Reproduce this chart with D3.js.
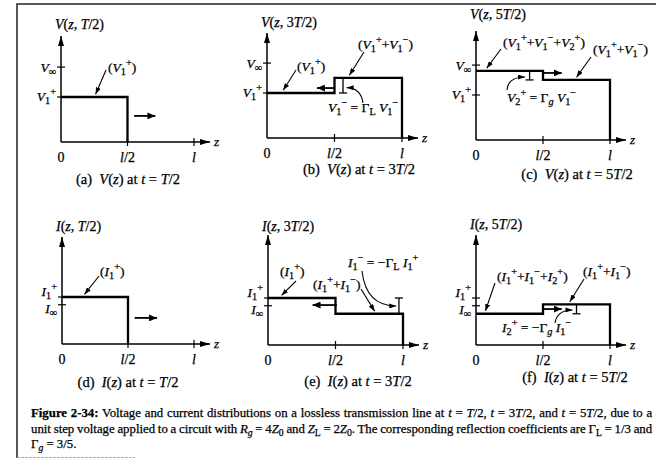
<!DOCTYPE html>
<html>
<head>
<meta charset="utf-8">
<script src="https://cdn.jsdelivr.net/npm/d3@7"></script>
<style>
html, body { margin: 0; padding: 0; background: #fff; }
svg { display: block; font-family: "Liberation Serif", "Times New Roman", serif; }
svg text { stroke: #000; stroke-width: 0.25px; }
</style>
</head>
<body>
<svg id="fig" width="656" height="461"></svg>
<script>
// positions along the line, as a fraction of l
var zTicks = [0, 0.5, 1];
var zTickLabels = ["0", "{l}/2", "{l}"];

// levels for a unit step, Rg = 4Z0, ZL = 2Z0 (Z0 = 1)
var vTicks = [0.333, 0.2];
var vTickLabels = ["{V}_∞", "{V}_1^+"];
var iTicks = [0.2, 0.167];
var iTickLabels = ["{I}_1^+", "{I}_∞"];

// step segments: [z from, z to, level]
var vAtT1 = [[0, 0.5, 0.2]];
var vAtT3 = [[0, 0.5, 0.2], [0.5, 1, 0.267]];
var vAtT5 = [[0, 0.5, 0.307], [0.5, 1, 0.267]];
var iAtT1 = [[0, 0.5, 0.2]];
var iAtT3 = [[0, 0.5, 0.2], [0.5, 1, 0.133]];
var iAtT5 = [[0, 0.5, 0.133], [0.5, 1, 0.173]];

var panelTitles = ["{V}({z}, {T}/2)", "{V}({z}, 3{T}/2)", "{V}({z}, 5{T}/2)",
                   "{I}({z}, {T}/2)", "{I}({z}, 3{T}/2)", "{I}({z}, 5{T}/2)"];
var panelCaptions = ["(a)  {V}({z}) at {t} = {T}/2", "(b)  {V}({z}) at {t} = 3{T}/2", "(c)  {V}({z}) at {t} = 5{T}/2",
                     "(d)  {I}({z}) at {t} = {T}/2", "(e)  {I}({z}) at {t} = 3{T}/2", "(f)  {I}({z}) at {t} = 5{T}/2"];

var figCaption = [
  "*Figure 2-34:* Voltage and current distributions on a lossless transmission line at {t} = {T}/2, {t} = 3{T}/2, and {t} = 5{T}/2, due to a",
  "unit step voltage applied to a circuit with {R}_{g} = 4{Z}_0 and {Z}_L = 2{Z}_0. The corresponding reflection coefficients are Γ_L = 1/3 and",
  "Γ_{g} = 3/5."
];

// layout of each panel
var panels = [
  { data: vAtT1, ticks: vTicks, tickLabels: vTickLabels, tickDy: [5, 4],
    ax: 61, lx: 194, base: 142, k: 225, top: 36, titleY: 29, capX: 128, capY: 184,
    flow: [0.55, 0.71, 0.116],
    labels: [["({V}_1^+)", 108, 72]],
    pointers: [[106, 70, 0.26, 0.212]] },
  { data: vAtT3, ticks: vTicks, tickLabels: vTickLabels, tickDy: [5, 4],
    ax: 267, lx: 402, base: 138, k: 225, top: 33, titleY: 27, capX: 359, capY: 174,
    flow: [0.5, 0.37, 0.222],
    bar: [0.563, 0.2, 0.267, "both"],
    labels: [["({V}_1^+)", 297, 71], ["({V}_1^++{V}_1^−)", 358, 49], ["{V}_1^− = Γ_L {V}_1^−", 328, 112]],
    pointers: [[296, 70, 0.12, 0.212], [364, 52, 0.61, 0.279]],
    curve: [363, 103, 361, 88, 0.59, 0.224] },
  { data: vAtT5, ticks: vTicks, tickLabels: vTickLabels, tickDy: [5, 4],
    ax: 476, lx: 610, base: 140, k: 225, top: 31, titleY: 19, capX: 577, capY: 179,
    flow: [0.5, 0.64, 0.298],
    bar: [0.4, 0.267, 0.307, "bottom"],
    labels: [["({V}_1^++{V}_1^−+{V}_2^+)", 503, 47], ["({V}_1^++{V}_1^−)", 593, 54], ["{V}_2^+ = Γ_{g} {V}_1^−", 507, 102]],
    pointers: [[501, 49, 0.08, 0.319], [591, 57, 0.75, 0.279]],
    curve: [507, 90, 508, 77, 0.366, 0.28] },
  { data: iAtT1, ticks: iTicks, tickLabels: iTickLabels, tickDy: [-1, 8],
    ax: 62, lx: 194, base: 344, k: 235, top: 237, titleY: 231, capX: 128, capY: 387,
    flow: [0.55, 0.72, 0.111],
    labels: [["({I}_1^+)", 100, 276]],
    pointers: [[99, 276, 0.17, 0.211]] },
  { data: iAtT3, ticks: iTicks, tickLabels: iTickLabels, tickDy: [-1, 8],
    ax: 268, lx: 403, base: 345, k: 235, top: 235, titleY: 231, capX: 358, capY: 386,
    flow: [0.51, 0.33, 0.17],
    bar: [0.97, 0.133, 0.2, "top"],
    labels: [["({I}_1^+)", 280, 276], ["({I}_1^++{I}_1^−)", 313, 289], ["{I}_1^− = −Γ_L {I}_1^+", 348, 267]],
    pointers: [[296, 281, 0.1, 0.211], [361, 289, 0.79, 0.144]],
    curve: [362, 271, 366, 306, 0.95, 0.166] },
  { data: iAtT5, ticks: iTicks, tickLabels: iTickLabels, tickDy: [-1, 8],
    ax: 476, lx: 610, base: 345, k: 235, top: 235, titleY: 229, capX: 575, capY: 382,
    flow: [0.5, 0.64, 0.153],
    bar: [0.75, 0.133, 0.173, "bottom"],
    labels: [["({I}_1^++{I}_1^−+{I}_2^+)", 497, 281], ["({I}_1^++{I}_1^−)", 583, 276], ["{I}_2^+ = −Γ_{g} {I}_1^−", 502, 332]],
    pointers: [[495, 283, 0.07, 0.145], [584, 279, 0.7, 0.184]],
    curve: [555, 323, 557, 310, 0.72, 0.149] }
];

var svg = d3.select("#fig");

// arrow heads
var defs = svg.append("defs");
function head(id, len, wid) {
  defs.append("marker").attr("id", id)
    .attr("markerUnits", "userSpaceOnUse")
    .attr("viewBox", "0 0 " + len + " " + wid)
    .attr("markerWidth", len).attr("markerHeight", wid)
    .attr("refX", len).attr("refY", wid / 2)
    .attr("orient", "auto")
    .append("path").attr("d", "M0,0L" + len + "," + (wid / 2) + "L0," + wid + "Z").attr("fill", "#000");
}
head("axisHead", 10, 6);
head("flowHead", 8, 7);
head("ptrHead", 7, 5);

// text with italic {..}, bold *..*, sub _x and sup ^x
function rich(t, str) {
  var fs = +t.attr("font-size");
  var off = 0;
  var re = /\*([^*]*)\*|_\{([^}]*)\}|\{([^}]*)\}|_(.)|\^(.)|([^*{_^]+)/g;
  var m;
  while ((m = re.exec(str)) !== null) {
    var txt, it = false, bold = false, small = false, shift = 0;
    if (m[1] !== undefined) { txt = m[1]; bold = true; }
    else if (m[2] !== undefined) { txt = m[2]; it = true; small = true; shift = 0.25; }
    else if (m[3] !== undefined) { txt = m[3]; it = true; }
    else if (m[4] !== undefined) { txt = m[4]; small = true; shift = 0.25; }
    else if (m[5] !== undefined) { txt = m[5]; small = true; shift = -0.45; }
    else { txt = m[6]; }
    var s = shift * fs;
    var ts = t.append("tspan").text(txt);
    if (s !== off) ts.attr("dy", s - off);
    off = s;
    if (it) ts.attr("font-style", "italic");
    if (bold) ts.attr("font-weight", "bold");
    if (small) ts.attr("font-size", (fs * 0.76).toFixed(1));
  }
  return t;
}

function addText(g, str, x, y, fs, anchor) {
  var t = g.append("text").attr("x", x).attr("y", y).attr("font-size", fs)
    .attr("text-anchor", anchor || "start").style("white-space", "pre");
  return rich(t, str);
}

// frame
svg.append("path").attr("d", "M17,458V4H656").attr("fill", "none").attr("stroke", "#222").attr("stroke-width", 1.5);
svg.append("line").attr("x1", 17).attr("x2", 135).attr("y1", 457.5).attr("y2", 457.5)
  .attr("stroke", "#aaa").attr("stroke-width", 1).attr("stroke-dasharray", "3,1");

panels.forEach(function(p, i) {
  var g = svg.append("g");
  var x = d3.scaleLinear().domain([0, 1]).range([p.ax, p.lx]);
  var y = d3.scaleLinear().domain([0, 1]).range([p.base, p.base - p.k]);

  // axes
  g.append("line").attr("x1", p.ax).attr("x2", p.ax).attr("y1", p.base).attr("y2", p.top)
    .attr("stroke", "#000").attr("stroke-width", 1.5).attr("marker-end", "url(#axisHead)");
  g.append("line").attr("x1", p.ax).attr("x2", x(1) + 16).attr("y1", p.base).attr("y2", p.base)
    .attr("stroke", "#000").attr("stroke-width", 1.5).attr("marker-end", "url(#axisHead)");
  addText(g, "{z}", x(1) + 20, p.base + 4, 13.5);

  // z ticks
  g.selectAll(".zt").data(zTicks.slice(1)).enter().append("line")
    .attr("x1", function(d) { return x(d); }).attr("x2", function(d) { return x(d); })
    .attr("y1", p.base - 4).attr("y2", p.base + 4).attr("stroke", "#000").attr("stroke-width", 1.2);
  zTicks.forEach(function(d, j) {
    addText(g, zTickLabels[j], x(d), p.base + 20, 14, "middle");
  });

  // level ticks
  g.selectAll(".lt").data(p.ticks).enter().append("line")
    .attr("x1", p.ax - 4).attr("x2", p.ax + 4)
    .attr("y1", function(d) { return y(d); }).attr("y2", function(d) { return y(d); })
    .attr("stroke", "#000").attr("stroke-width", 1.2);
  p.ticks.forEach(function(d, j) {
    addText(g, p.tickLabels[j], p.ax - 5, y(d) + p.tickDy[j], 13.5, "end");
  });

  // waveform
  var pts = [];
  p.data.forEach(function(s) { pts.push([s[0], s[2]], [s[1], s[2]]); });
  var last = p.data[p.data.length - 1];
  pts.push([last[1], 0]);
  g.append("path").attr("d", d3.line().x(function(d) { return x(d[0]); }).y(function(d) { return y(d[1]); })(pts))
    .attr("fill", "none").attr("stroke", "#000").attr("stroke-width", 2.3).attr("stroke-linejoin", "miter");

  // travelling direction
  g.append("line").attr("x1", x(p.flow[0])).attr("x2", x(p.flow[1]))
    .attr("y1", y(p.flow[2])).attr("y2", y(p.flow[2]))
    .attr("stroke", "#000").attr("stroke-width", 1.8).attr("marker-end", "url(#flowHead)");

  // reflected step size bar
  if (p.bar) {
    var bx = x(p.bar[0]), b0 = y(p.bar[1]), b1 = y(p.bar[2]);
    g.append("line").attr("x1", bx).attr("x2", bx).attr("y1", b0).attr("y2", b1)
      .attr("stroke", "#000").attr("stroke-width", 1.3);
    if (p.bar[3] !== "top") g.append("line").attr("x1", bx - 4).attr("x2", bx + 4).attr("y1", b0).attr("y2", b0)
      .attr("stroke", "#000").attr("stroke-width", 1.3);
    if (p.bar[3] !== "bottom") g.append("line").attr("x1", bx - 4).attr("x2", bx + 4).attr("y1", b1).attr("y2", b1)
      .attr("stroke", "#000").attr("stroke-width", 1.3);
  }

  // labels and leaders
  p.labels.forEach(function(l) { addText(g, l[0], l[1], l[2], 13.5); });
  p.pointers.forEach(function(q) {
    g.append("line").attr("x1", q[0]).attr("y1", q[1]).attr("x2", x(q[2])).attr("y2", y(q[3]))
      .attr("stroke", "#000").attr("stroke-width", 1.1).attr("marker-end", "url(#ptrHead)");
  });
  if (p.curve) {
    var c = p.curve;
    g.append("path").attr("d", "M" + c[0] + "," + c[1] + "Q" + c[2] + "," + c[3] + " " + x(c[4]) + "," + y(c[5]))
      .attr("fill", "none").attr("stroke", "#000").attr("stroke-width", 1.1).attr("marker-end", "url(#ptrHead)");
  }

  // titles and captions
  addText(g, panelTitles[i], p.ax - 6, p.titleY, 14);
  addText(g, panelCaptions[i], p.capX, p.capY, 14.5, "middle");
});

// figure caption, first two lines justified
var capY = [417, 433, 448];
figCaption.forEach(function(line, j) {
  var t = addText(svg, line, 31, capY[j], 12.8);
  if (j < 2) {
    var w = t.node().getComputedTextLength();
    var spaces = t.text().split(" ").length - 1;
    t.attr("word-spacing", ((652 - 31 - w) / spaces).toFixed(2));
  }
});
</script>
</body>
</html>
